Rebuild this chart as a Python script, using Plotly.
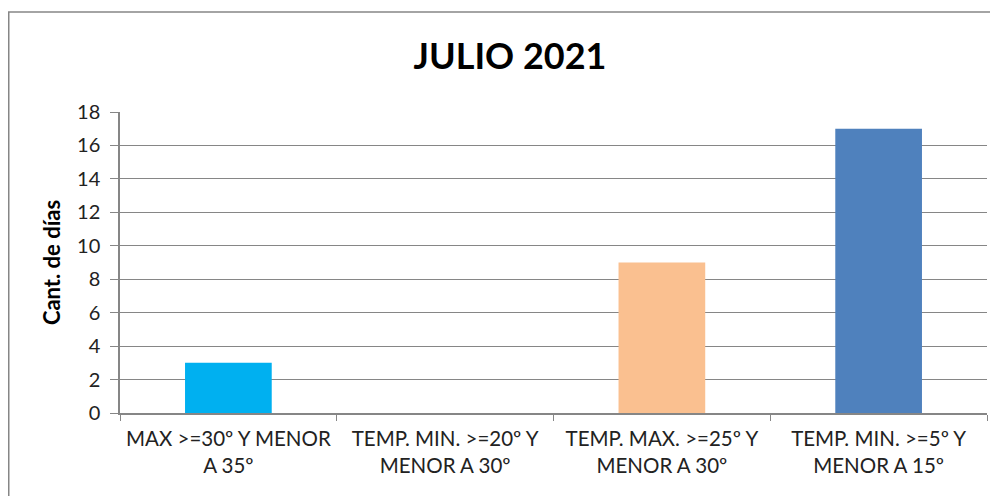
import plotly.graph_objects as go

categories = [
    "MAX >=30º Y MENOR<br>A 35º",
    "TEMP. MIN. >=20º Y<br>MENOR A 30º",
    "TEMP. MAX. >=25º Y<br>MENOR A 30º",
    "TEMP. MIN. >=5º Y<br>MENOR A 15º",
]
values = [3, 0, 9, 17]
colors = ["#00B0F0", "#4F81BD", "#FAC090", "#4F81BD"]
y_ticks = [0, 2, 4, 6, 8, 10, 12, 14, 16, 18]
title_text = "JULIO 2021"
y_title = "Cant. de días"

# page has an 8px body margin; figure sized so plot area lands where the reference has it
W, H = 990, 488
L, R, T, B = 112, 11, 104, 83
pw, ph = W - L - R, H - T - B

fig = go.Figure(go.Bar(
    x=categories, y=values, marker=dict(color=colors, line=dict(width=0)),
    showlegend=False,
))

fig.update_layout(
    width=W, height=H,
    margin=dict(l=L, r=R, t=T, b=B),
    paper_bgcolor="white", plot_bgcolor="white",
    bargap=0.6,
    font=dict(family="Lato, Open Sans, sans-serif", color="#222222"),
    title=dict(text="<b>" + title_text + "</b>", x=502 / W, xanchor="center",
               y=1 - 48 / H, yanchor="middle", yref="container",
               font=dict(size=36, color="#000000")),
)
fig.update_xaxes(
    type="category", tickson="boundaries", ticks="outside", ticklen=6,
    tickcolor="#868686", showline=True, linecolor="#868686", linewidth=1.5,
    tickfont=dict(size=20.5, color="#222222"), showgrid=False,
    ticklabelstandoff=7,
)
fig.update_yaxes(
    range=[0, 18], tickvals=y_ticks, ticks="outside", ticklen=8,
    tickcolor="#868686", showline=True, linecolor="#868686", linewidth=1.5,
    gridcolor="#868686", gridwidth=1, zeroline=False,
    tickfont=dict(size=20, color="#222222"), ticklabelstandoff=6,
    title=dict(text="<b>" + y_title + "</b>", font=dict(size=22, color="#000000"), standoff=10),
)
fig.add_shape(
    type="rect", xref="paper", yref="paper",
    x0=(0.75 - L) / pw, x1=(W + 10 - L) / pw,
    y0=(T + ph - (H + 10)) / ph, y1=(T + ph - 4) / ph,
    line=dict(color="#868686", width=1.5), fillcolor="rgba(0,0,0,0)", layer="above",
)
fig.write_html("out.html")
